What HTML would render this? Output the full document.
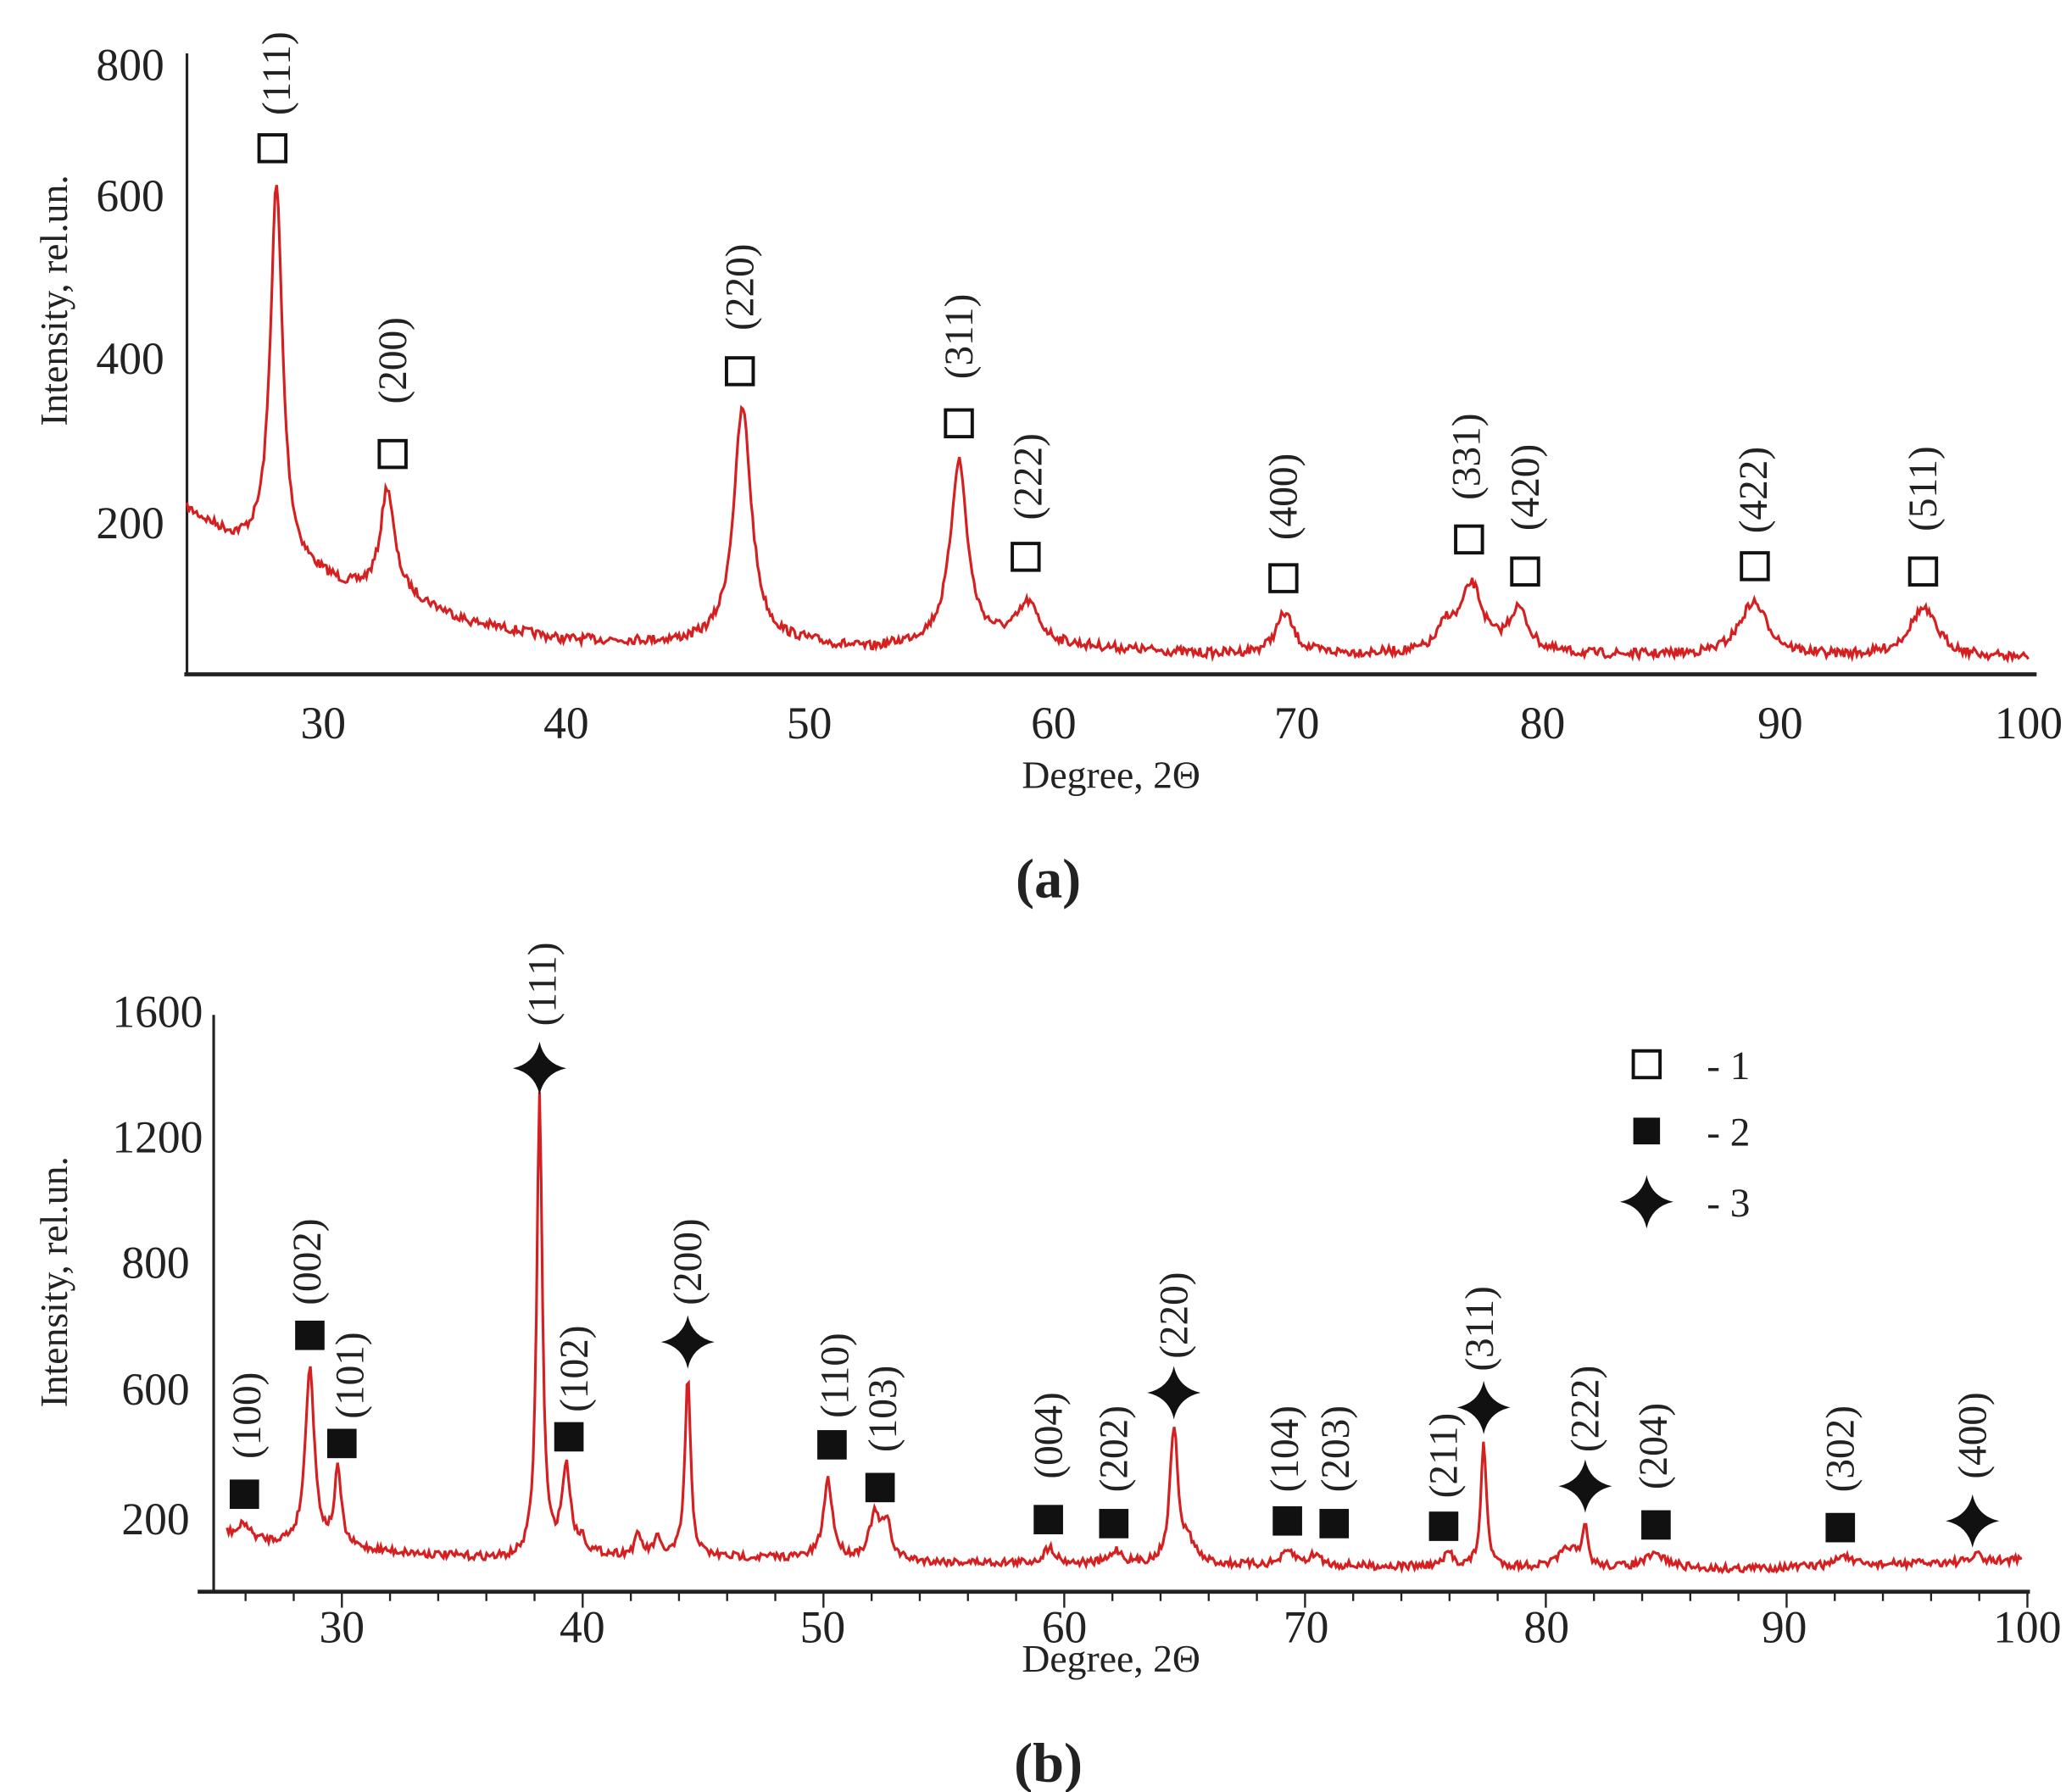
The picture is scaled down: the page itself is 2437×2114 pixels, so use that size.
<!DOCTYPE html>
<html><head><meta charset="utf-8"><style>
html,body{margin:0;padding:0;background:#fff;}
svg{display:block;}
text{font-family:"Liberation Serif",serif;fill:#222;}
</style></head><body>
<svg id="s" width="2437" height="2114" viewBox="0 0 1547 1342" preserveAspectRatio="none" xmlns="http://www.w3.org/2000/svg">
<defs>
<path id="star" d="M0,-20 Q3.5,-3.5 20,0 Q3.5,3.5 0,20 Q-3.5,3.5 -20,0 Q-3.5,-3.5 0,-20Z" fill="#111"/>
</defs>
<g id="top">
<line x1="140" y1="40" x2="140" y2="505" stroke="#222" stroke-width="2"/>
<line x1="138" y1="505" x2="1525" y2="505" stroke="#222" stroke-width="3"/>
<g font-size="34" text-anchor="end">
<text x="123" y="60">800</text><text x="123" y="158">600</text><text x="123" y="280">400</text><text x="123" y="403">200</text>
</g>
<g font-size="34" text-anchor="middle">
<text x="242" y="553">30</text><text x="424" y="553">40</text><text x="606" y="553">50</text><text x="789" y="553">60</text><text x="971" y="553">70</text><text x="1155" y="553">80</text><text x="1333" y="553">90</text><text x="1519" y="553">100</text>
</g>
<text x="832" y="590" font-size="29" text-anchor="middle">Degree, 2Θ</text>
<text transform="translate(50,225) rotate(-90)" font-size="29" text-anchor="middle">Intensity, rel.un.</text>
<text x="785" y="672" font-size="42" font-weight="bold" text-anchor="middle">(a)</text>
<path id="pa" fill="none" stroke="#d42020" stroke-width="2"/>
<g id="ma"></g>
</g>
<g id="bot">
<line x1="160" y1="760" x2="160" y2="1192" stroke="#222" stroke-width="2"/>
<line x1="148" y1="1192" x2="1520" y2="1192" stroke="#222" stroke-width="3"/>
<g id="ticksb" stroke="#222" stroke-width="1.5"></g>
<g font-size="34" text-anchor="end">
<text x="152" y="769">1600</text><text x="152" y="863">1200</text><text x="142" y="957">800</text><text x="142" y="1052">600</text><text x="142" y="1149">200</text>
</g>
<g font-size="34" text-anchor="middle">
<text x="256" y="1230">30</text><text x="436" y="1230">40</text><text x="616" y="1230">50</text><text x="797" y="1230">60</text><text x="978" y="1230">70</text><text x="1158" y="1230">80</text><text x="1336" y="1230">90</text><text x="1518" y="1230">100</text>
</g>
<text x="832" y="1252" font-size="29" text-anchor="middle">Degree, 2Θ</text>
<text transform="translate(50,960) rotate(-90)" font-size="29" text-anchor="middle">Intensity, rel.un.</text>
<text x="785" y="1334" font-size="42" font-weight="bold" text-anchor="middle">(b)</text>
<path id="pb" fill="none" stroke="#d42020" stroke-width="2"/>
<g id="mb"></g>
<rect x="1223" y="787" width="20" height="20" fill="none" stroke="#111" stroke-width="2.5"/>
<text x="1278" y="808" font-size="30">- 1</text>
<rect x="1223" y="837" width="20" height="20" fill="#111"/>
<text x="1278" y="858" font-size="30">- 2</text>
<use href="#star" x="1233" y="900"/>
<text x="1278" y="911" font-size="30">- 3</text>
</g>
</svg>
<script>
var NS="http://www.w3.org/2000/svg";
var seed=7;function rnd(){seed=(seed*16807)%2147483647;return seed/2147483647;}
function interp(b,x){for(var i=0;i<b.length-1;i++){if(x<=b[i+1][0]){var t=(x-b[i][0])/(b[i+1][0]-b[i][0]);return b[i][1]+t*(b[i+1][1]-b[i][1]);}}return b[b.length-1][1];}
function curve(id,x0,x1,base,peaks,noise){var d="";for(var x=x0;x<=x1;x+=1.2){var y=interp(base,x);for(var k=0;k<peaks.length;k++){var p=peaks[k];var u=(x-p[0])/p[2];y-=p[1]/(1+u*u);}y+=(rnd()-0.5)*noise;d+=(d?"L":"M")+x.toFixed(1)+","+y.toFixed(1);}document.getElementById(id).setAttribute("d",d);}
curve("pa",140,1519,[[140,382],[175,405],[195,412],[240,432],[260,440],[300,445],[350,466],[420,479],[510,482],[600,482],[650,487],[700,481],[760,479],[800,484],[900,490],[1000,490],[1200,491],[1519,493]],
[[207,278,5.5],[290,78,6],[556,176,8],[718,135,7.5],[770,27,9],[962,30,8],[1102,50,10],[1083,18,7],[1137,32,9],[1313,40,13],[1440,36,13]],7);
curve("pb",170,1515,[[170,1148],[200,1155],[260,1160],[330,1165],[380,1168],[450,1165],[600,1167],[700,1170],[900,1172],[1300,1175],[1400,1172],[1515,1168]],
[[183,10,4],[232,135,4],[253,57,3],[404,345,2.5],[424,65,4],[436,10,3],[478,15,3],[492,12,3],[515,135,2.5],[620,59,4],[655,32,5],[664,25,4],[786,12,5],[836,10,5],[879,102,3.5],[890,15,6],[965,10,6],[985,8,5],[1085,10,4],[1111,92,2.5],[1175,15,8],[1187,30,2],[1240,10,10],[1380,8,6],[1480,8,2]],6);
function add(g,tag,at,txt){var e=document.createElementNS(NS,tag);for(var k in at)e.setAttribute(k,at[k]);if(txt)e.textContent=txt;document.getElementById(g).appendChild(e);}
function lab(g,x,y,t){add(g,"text",{transform:"translate("+(x+10)+","+y+") rotate(-90)","font-size":"30","text-anchor":"middle"},t);}
var A=[[204,111,"(111)",207,55],[294,340,"(200)",294,270],[554,278,"(220)",554,215],[718,317,"(311)",718,252],[768,417,"(222)",770,357],[961,433,"(400)",961,372],[1100,404,"(331)",1098,342],[1142,428,"(420)",1142,365],[1314,424,"(422)",1313,367],[1440,428,"(511)",1440,366]];
A.forEach(function(m){add("ma","rect",{x:m[0]-10,y:m[1]-10,width:20,height:20,fill:"none",stroke:"#111","stroke-width":2.5});lab("ma",m[3],m[4],m[2]);});
var B=[["s",183,1119,"(100)",185,1060],["s",232,1000,"(002)",230,945],["s",256,1081,"(101)",262,1030],["t",404,800,"(111)",406,737],["s",426,1076,"(102)",430,1025],["t",515,1005,"(200)",515,945],["s",623,1082,"(110)",625,1030],["s",659,1114,"(103)",661,1055],["s",785,1138,"(004)",785,1075],["s",834,1141,"(202)",834,1085],["t",879,1043,"(220)",879,985],["s",964,1139,"(104)",962,1085],["s",999,1141,"(203)",1000,1085],["s",1081,1143,"(211)",1081,1090],["t",1111,1054,"(311)",1108,995],["t",1187,1113,"(222)",1187,1055],["s",1240,1142,"(204)",1238,1083],["s",1378,1144,"(302)",1378,1085],["t",1477,1139,"(400)",1477,1075]];
B.forEach(function(m){if(m[0]=="s")add("mb","rect",{x:m[1]-11,y:m[2]-11,width:22,height:22,fill:"#111"});else add("mb","use",{href:"#star",x:m[1],y:m[2]});lab("mb",m[4],m[5],m[3]);});
for(var d=26;d<=100;d+=2){var x=256+(d-30)*18.03;add("ticksb","line",{x1:x,y1:1192,x2:x,y2:(d%10==0?1204:1199)});}
</script>
</body></html>
